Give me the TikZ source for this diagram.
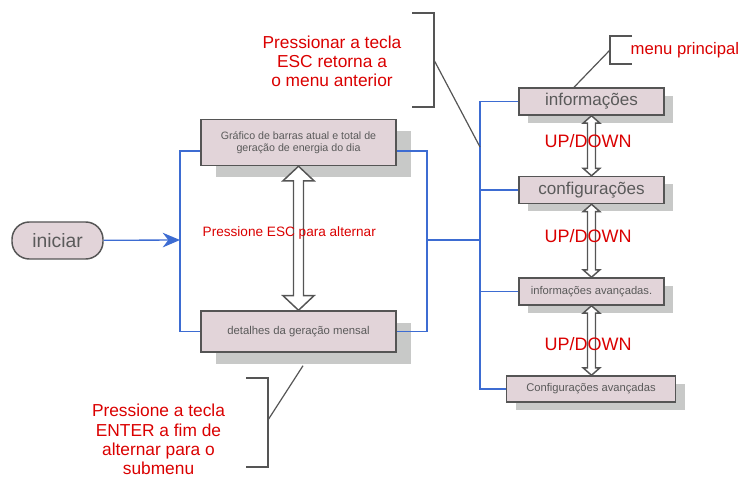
\documentclass[tikz,border=0pt]{standalone}
\usepackage{fontspec}
\setmainfont{Liberation Sans}
\usetikzlibrary{arrows.meta,calc,shadows}

\definecolor{boxpink}{RGB}{226,212,217}
\definecolor{shade}{RGB}{200,201,200}
\definecolor{edge}{RGB}{85,85,85}
\definecolor{boxtext}{RGB}{90,90,90}
\definecolor{flowblue}{RGB}{61,108,210}
\definecolor{notered}{RGB}{218,0,0}

\newcommand{\keyarrow}[5]{%
  \draw[key arrow] let \p1=(#1.south), \p2=(#2.north) in
    (\x1,\y1) -- ({\x1+#3},{\y1-#5}) -- ({\x1+#4},{\y1-#5}) -- ({\x1+#4},{\y2+#5})
    -- ({\x1+#3},{\y2+#5}) -- (\x1,\y2) -- ({\x1-#3},{\y2+#5}) -- ({\x1-#4},{\y2+#5})
    -- ({\x1-#4},{\y1-#5}) -- ({\x1-#3},{\y1-#5}) -- cycle;}

\begin{document}
\begin{tikzpicture}[x=0.75pt,y=-0.75pt,
  box/.style={draw=edge,line width=1.1pt,fill=boxpink,text=boxtext,inner sep=0pt},
  wide box/.style={box,minimum width=146.25pt,
    general shadow={fill=shade,shadow xshift=11pt,shadow yshift=-9pt}},
  menu box/.style={box,minimum width=108.75pt,minimum height=20.25pt,
    general shadow={fill=shade,shadow xshift=7pt,shadow yshift=-6pt}},
  flow/.style={draw=flowblue,line width=1pt},
  callout/.style={draw=edge,line width=0.9pt},
  note/.style={text=notered,align=center},
  key arrow/.style={draw=edge,line width=1.1pt,fill=white,line join=miter}]
  \useasboundingbox (0,0) rectangle (742,477);

  \node[box,rounded corners=13pt,minimum width=68.25pt,minimum height=27.75pt,
    font=\fontsize{14.5}{16}\selectfont] (start) at (57.5,240.5) {iniciar};
  \node[wide box,minimum height=34.5pt,align=center,font=\fontsize{8}{9.25}\selectfont]
    (graf) at (298.5,142.5) {Gráfico de barras atual e total de\\geração de energia do dia};
  \node[wide box,minimum height=30.75pt,font=\fontsize{8.5}{10}\selectfont]
    (mensal) at (298.5,331.5) {detalhes da geração mensal};

  \node[menu box,font=\fontsize{12.8}{14}\selectfont] (info) at (591.5,101.5) {informações};
  \node[menu box,font=\fontsize{12.8}{14}\selectfont] (config) at (591.5,190) {configurações};
  \node[menu box,font=\fontsize{8.4}{10}\selectfont] (infoav) at (591.5,291.5) {informações avançadas.};
  \node[menu box,minimum width=126.75pt,minimum height=19.5pt,font=\fontsize{8.4}{10}\selectfont]
    (configav) at (591,389) {Configurações avançadas};

  \coordinate (jl) at (180,240);
  \coordinate (jr) at (427,240);
  \coordinate (bus) at (480,240);

  \draw[flow,-{Stealth[length=13pt,width=11pt]}] (start) -- (jl);
  \draw[flow] ([yshift=-6.4pt]graf.west) -| (jl) |- (mensal.west);
  \draw[flow] ([yshift=-6.4pt]graf.east) -| (jr) |- (mensal.east);
  \draw[flow] (jr) -- (bus);
  \draw[flow] (info.west) -| (bus) |- (configav.west);
  \draw[flow] (config.west) -- (config.west -| bus);
  \draw[flow] (infoav.west) -- (infoav.west -| bus);

  \keyarrow{graf}{mensal}{11.7pt}{3.75pt}{11pt}
  \keyarrow{info}{config}{6.2pt}{3pt}{5.5pt}
  \keyarrow{config}{infoav}{6.2pt}{3pt}{5.5pt}
  \keyarrow{infoav}{configav}{6.2pt}{3pt}{5.5pt}

  \node[note,font=\fontsize{10.2}{12}\selectfont,anchor=west] (escswap) at (198,233) {Pressione ESC para alternar};
  \foreach \y/\n in {141.5/ud1,236/ud2,344/ud3}
    \node[note,font=\fontsize{13.5}{16}\selectfont] (\n) at (588,\y) {UP/DOWN};

  \node[note,font=\fontsize{13}{14.25}\selectfont] (escnote) at (332,61)
    {Pressionar a tecla\\ESC retorna a\\o menu anterior};
  \draw[callout] (412,13) -| (434,107) -- (412,107);
  \coordinate (escb) at (434,60);
  \coordinate (esct) at (480,147);
  \draw[callout] (escb) -- (esct);

  \node[note,font=\fontsize{12.5}{14}\selectfont,anchor=west] (mainnote) at (626,50) {menu principal};
  \draw[callout] (632,36) -| (610,64) -- (632,64);
  \coordinate (mainb) at (610,50);
  \draw[callout] (mainb) -- ($(info.north)+(-17.5,0)$);

  \node[note,font=\fontsize{13}{14.5}\selectfont] (enternote) at (158.5,439.5)
    {Pressione a tecla\\ENTER a fim de\\alternar para o\\submenu};
  \draw[callout] (246,378) -| (268,467) -- (246,467);
  \coordinate (enterb) at (268,420);
  \draw[callout] (enterb) -- ($(mensal.south)+(4.5,13)$);
\end{tikzpicture}
\end{document}
